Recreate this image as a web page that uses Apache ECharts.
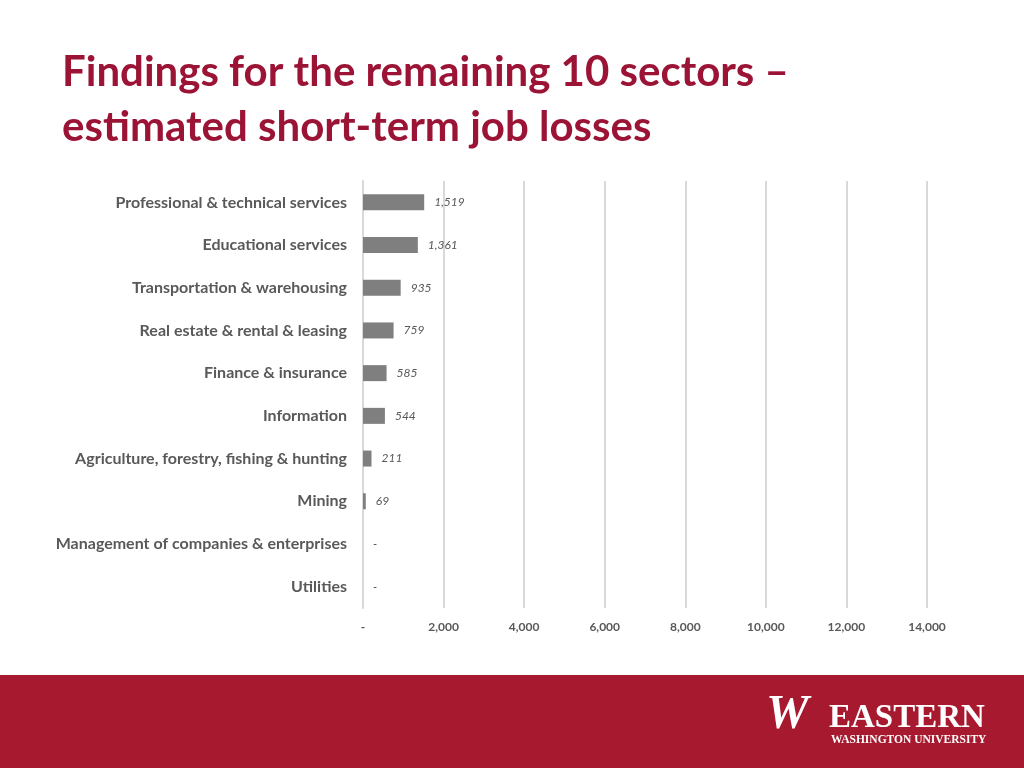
<!DOCTYPE html>
<html>
<head>
<meta charset="utf-8">
<script src="https://cdn.jsdelivr.net/npm/echarts@6/dist/echarts.min.js"></script>
<style>
  html, body { margin: 0; padding: 0; background: #fff; }
  #chart { width: 1024px; height: 768px; }
</style>
</head>
<body>
<div id="chart"></div>
<script>
const sectors = [
  "Professional & technical services",
  "Educational services",
  "Transportation & warehousing",
  "Real estate & rental & leasing",
  "Finance & insurance",
  "Information",
  "Agriculture, forestry, fishing & hunting",
  "Mining",
  "Management of companies & enterprises",
  "Utilities"
];
const jobLosses = [1519, 1361, 935, 759, 585, 544, 211, 69, 0, 0];
const xTicks = [0, 2000, 4000, 6000, 8000, 10000, 12000, 14000];

const fmt = v => (v === 0 ? "-" : v.toLocaleString("en-US"));

const chart = echarts.init(document.getElementById("chart"));
const option = {
  backgroundColor: "#ffffff",
  animation: false,
  title: {
    text: "Findings for the remaining 10 sectors –\nestimated short-term job losses",
    left: 57,
    top: 40,
    textStyle: {
      color: "#9b1436",
      fontFamily: "Lato",
      fontWeight: "bold",
      fontSize: 42,
      lineHeight: 55
    }
  },
  grid: {
    left: 363,
    right: 97,
    top: 181,
    bottom: 160,
    containLabel: false
  },
  xAxis: {
    type: "value",
    min: xTicks[0],
    max: xTicks[xTicks.length - 1],
    interval: 2000,
    axisLine: { show: false },
    axisTick: { show: false },
    splitLine: { show: true, lineStyle: { color: "#d9d9d9", width: 2 } },
    axisLabel: {
      color: "#595959",
      fontFamily: "Lato",
      fontWeight: "bold",
      fontSize: 12,
      margin: 13,
      formatter: v => fmt(v)
    }
  },
  yAxis: {
    type: "category",
    data: sectors,
    inverse: true,
    axisLine: { show: true, lineStyle: { color: "#d9d9d9", width: 2 } },
    axisTick: { show: false },
    axisLabel: {
      color: "#595959",
      fontFamily: "Lato",
      fontWeight: "bold",
      fontSize: 16,
      margin: 16
    }
  },
  series: [
    {
      type: "bar",
      data: jobLosses,
      barWidth: 16,
      itemStyle: { color: "#7f7f7f" },
      label: {
        show: true,
        position: "right",
        distance: 10,
        color: "#595959",
        fontFamily: "Lato",
        fontStyle: "italic",
        fontSize: 12,
        formatter: p => fmt(p.value)
      }
    }
  ],
  graphic: [
    {
      type: "rect",
      shape: { x: 0, y: 675, width: 1024, height: 93 },
      style: { fill: "#a6192e" },
      z: -1
    },
    {
      type: "text",
      left: 829,
      top: 702,
      style: {
        text: "EASTERN",
        fill: "#ffffff",
        font: "bold 33px 'Liberation Serif'"
      }
    },
    {
      type: "text",
      left: 831,
      top: 734,
      style: {
        text: "WASHINGTON UNIVERSITY",
        fill: "#ffffff",
        font: "bold 11.5px 'Liberation Serif'"
      }
    },
    {
      type: "text",
      left: 766,
      top: 692,
      style: {
        text: "W",
        fill: "#ffffff",
        font: "bold italic 48px 'Liberation Serif'"
      }
    }
  ]
};
chart.setOption(option);
</script>
</body>
</html>
